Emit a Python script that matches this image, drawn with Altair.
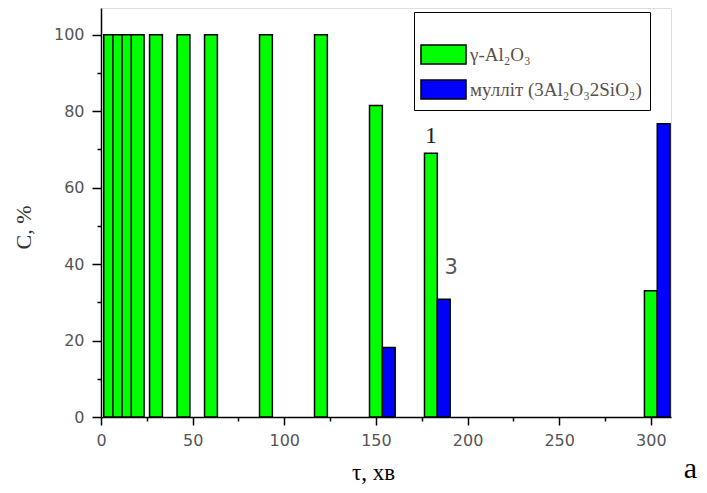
import altair as alt
import pandas as pd

# ---- data ----
times = [5, 10, 15, 20, 30, 45, 60, 90, 120, 150, 180, 300]
gamma_al2o3 = [100, 100, 100, 100, 100, 100, 100, 100, 100, 81.5, 69, 33]
mullite_times = [150, 180, 300]
mullite = [18.2, 30.8, 76.7]

series_names = ["γ-Al₂O₃", "мулліт (3Al₂O₃2SiO₂)"]
series_colors = ["#00ff00", "#0000ff"]

note_text = ["1", "3"]
note_x = [180, 191]
note_y = [73.5, 39]

x_ticks = [0, 25, 50, 75, 100, 125, 150, 175, 200, 225, 250, 275, 300]
y_ticks = [0, 10, 20, 30, 40, 50, 60, 70, 80, 90, 100]

BAR_W = 7  # bar width in data units (style)

rows = []
for t, v in zip(times, gamma_al2o3):
    rows.append({"t": t, "c": v, "series": series_names[0], "slot": 0})
for t, v in zip(mullite_times, mullite):
    rows.append({"t": t, "c": v, "series": series_names[1], "slot": 1})
bars_df = pd.DataFrame(rows)

notes_df = pd.DataFrame({"label": note_text, "x": note_x, "y": note_y})

x_scale = alt.Scale(domain=[0, 311], nice=False, zero=False)
y_scale = alt.Scale(domain=[0, 107], nice=False)

x_axis = alt.Axis(
    title="τ, хв",
    values=x_ticks,
    labelExpr="datum.value % 50 == 0 ? datum.label : ''",
    tickSize={"condition": {"test": "datum.value % 50 == 0", "value": 8}, "value": 4},
    grid=False,
    domainColor="black", domainWidth=1.5,
    tickColor="black", tickWidth=1.5,
    labelFont="DejaVu Sans", labelFontSize=16, labelColor="#555555",
    labelPadding=7, labelFlush=False,
    titleFont="Liberation Serif", titleFontSize=23, titleFontWeight="normal",
    titleColor="black", titleX=272, titleY=62, titleBaseline="alphabetic",
)
y_axis = alt.Axis(
    title="C, %",
    values=y_ticks,
    labelExpr="datum.value % 20 == 0 ? datum.label : ''",
    tickSize={"condition": {"test": "datum.value % 20 == 0", "value": 9}, "value": 4},
    grid=False,
    domainColor="black", domainWidth=1.5,
    tickColor="black", tickWidth=1.5,
    labelFont="DejaVu Sans", labelFontSize=16, labelColor="#555555",
    labelPadding=8,
    titleFont="Liberation Serif", titleFontSize=22, titleFontWeight="normal",
    titleColor="#333333", titleX=-66, titleY=219,
)

bars = alt.Chart(bars_df).transform_calculate(
    x1=f"datum.t - {BAR_W}/2 + datum.slot*{BAR_W}",
    x2=f"datum.t + {BAR_W}/2 + datum.slot*{BAR_W}",
).mark_bar(stroke="black", strokeWidth=1.5, opacity=1).encode(
    x=alt.X("x1:Q", scale=x_scale, axis=x_axis),
    x2="x2:Q",
    y=alt.Y("c:Q", scale=y_scale, axis=y_axis),
    y2=alt.datum(0),
    color=alt.Color(
        "series:N",
        scale=alt.Scale(domain=series_names, range=series_colors),
        legend=alt.Legend(
            orient="none", legendX=313, legendY=4,
            title=" ", titleFontSize=18, titlePadding=6,
            padding=8, strokeColor="black",
            symbolType="M-2.37,-1H2.37V1H-2.37Z", symbolSize=361,
            symbolStrokeColor="black", symbolStrokeWidth=1.5, symbolOpacity=1,
            symbolOffset=11, labelOffset=16, rowPadding=10,
            labelFont="Liberation Serif", labelFontSize=19, labelColor="#5a5048",
            labelLimit=400,
        ),
    ),
    order=alt.Order("t:Q"),
)

note1 = alt.Chart(notes_df).transform_filter("datum.label == '1'").mark_text(
    font="Liberation Serif", fontSize=24, color="#222222"
).encode(x=alt.X("x:Q", scale=x_scale), y=alt.Y("y:Q", scale=y_scale), text="label:N")

note3 = alt.Chart(notes_df).transform_filter("datum.label == '3'").mark_text(
    font="DejaVu Sans", fontSize=21, color="#555555"
).encode(x=alt.X("x:Q", scale=x_scale), y=alt.Y("y:Q", scale=y_scale), text="label:N")

chart = alt.layer(bars, note1, note3).properties(
    width=570, height=409,
    autosize=alt.AutoSizeParams(type="none"),
    padding={"left": 93, "top": 0, "right": 28, "bottom": 68},
    title=alt.TitleParams(
        text="a", orient="bottom", anchor="end", font="Liberation Serif",
        fontSize=30, fontWeight="normal", color="black", dx=26, dy=-34,
    ),
).configure_view(stroke=None).configure(background="white")

chart.save("out.html", embed_options={"renderer": "svg", "actions": False})
